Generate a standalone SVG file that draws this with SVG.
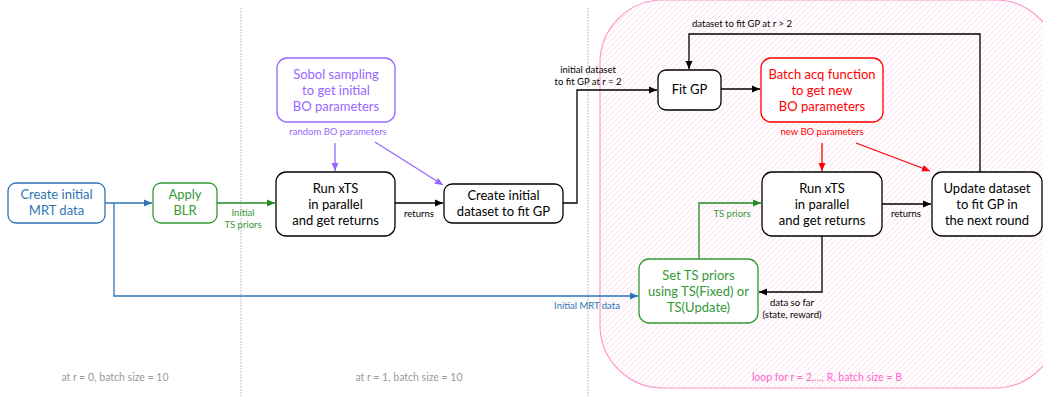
<svg xmlns="http://www.w3.org/2000/svg" width="1043" height="396" viewBox="0 0 1043 396">
<style>
.node{fill:#fff;stroke-width:1.3}
.t{font-family:Lato,"Liberation Sans",sans-serif;font-size:13px;text-anchor:middle}
.s{font-family:Lato,"Liberation Sans",sans-serif;font-size:9.5px;text-anchor:middle}
.k{stroke:#000}.kt{fill:#000}
.b{stroke:#2E75B6}.bt{fill:#2E75B6}
.g{stroke:#339933}.gt{fill:#339933}
.p{stroke:#9966FF}.pt{fill:#9966FF}
.r{stroke:#FF0000}.rt{fill:#FF0000}
.c{fill:none;stroke-width:1.3}
.gray{fill:#9a9a9a}
</style>
<defs>
<pattern id="hatch" patternUnits="userSpaceOnUse" width="4" height="4" patternTransform="rotate(45)">
<rect width="4" height="4" fill="#fff"/>
<line x1="0" y1="0" x2="0" y2="4" stroke="#fbd0e6" stroke-width="1.2"/>
</pattern>
<marker id="ak" markerUnits="userSpaceOnUse" markerWidth="9" markerHeight="8" refX="8" refY="4" orient="auto"><path d="M0,0.5 L8,4 L0,7.5z" fill="#000"/></marker>
<marker id="ab" markerUnits="userSpaceOnUse" markerWidth="9" markerHeight="8" refX="8" refY="4" orient="auto"><path d="M0,0.5 L8,4 L0,7.5z" fill="#2E75B6"/></marker>
<marker id="ag" markerUnits="userSpaceOnUse" markerWidth="9" markerHeight="8" refX="8" refY="4" orient="auto"><path d="M0,0.5 L8,4 L0,7.5z" fill="#228B22"/></marker>
<marker id="ap" markerUnits="userSpaceOnUse" markerWidth="9" markerHeight="8" refX="8" refY="4" orient="auto"><path d="M0,0.5 L8,4 L0,7.5z" fill="#9966FF"/></marker>
<marker id="ar" markerUnits="userSpaceOnUse" markerWidth="9" markerHeight="8" refX="8" refY="4" orient="auto"><path d="M0,0.5 L8,4 L0,7.5z" fill="#FF0000"/></marker>
</defs>

<g id="loop-region">
<rect x="600" y="0" width="458" height="388" rx="63" fill="url(#hatch)" stroke="#FF99CC" stroke-width="1.2"/>
<text class="s" x="827" y="381" fill="#FF66CC" style="font-size:10.5px">loop for r = 2,..., R, batch size = B</text>
</g>

<g id="separators" stroke="#999" stroke-width="0.8" stroke-dasharray="1.5,1.5">
<line x1="241" y1="8" x2="241" y2="396"/>
<line x1="588" y1="8" x2="588" y2="396"/>
</g>
<g id="phase-labels">
<text class="s gray" x="115" y="381" style="font-size:10.5px">at r = 0, batch size = 10</text>
<text class="s gray" x="409" y="381" style="font-size:10.5px">at r = 1, batch size = 10</text>
</g>

<g id="connectors">
<path class="c b" d="M105,203 H152" marker-end="url(#ab)"/>
<path class="c b" d="M114,203 V296 H638" marker-end="url(#ab)"/>
<text class="s bt" x="587" y="309">Initial MRT data</text>

<path class="c" stroke="#228B22" d="M217,203 H275" marker-end="url(#ag)"/>
<text class="s gt" x="243" y="216">Initial</text>
<text class="s gt" x="243" y="228">TS priors</text>

<path class="c p" d="M335,143 V171" marker-end="url(#ap)"/>
<path class="c p" d="M375,142 L443,185" marker-end="url(#ap)"/>

<path class="c k" d="M395,203 H443" marker-end="url(#ak)"/>
<text class="s kt" x="419" y="217">returns</text>

<path class="c k" d="M563,203 H577 V90 H657" marker-end="url(#ak)"/>
<text class="s kt" x="588" y="73">initial dataset</text>
<text class="s kt" x="588" y="85">to fit GP at r = 2</text>

<path class="c k" d="M721,89 H760" marker-end="url(#ak)"/>

<path class="c k" d="M980,172 V34 H689 V69" marker-end="url(#ak)"/>
<text class="s kt" x="742" y="27">dataset to fit GP at r &gt; 2</text>

<path class="c r" d="M822,143 V171" marker-end="url(#ar)"/>
<path class="c r" d="M856,143 L930,171" marker-end="url(#ar)"/>

<path class="c k" d="M882,204 H931" marker-end="url(#ak)"/>
<text class="s kt" x="906" y="217">returns</text>

<path class="c" stroke="#228B22" d="M699,259 V203 H761" marker-end="url(#ag)"/>
<text class="s gt" x="732" y="217">TS priors</text>

<path class="c k" d="M822,236 V292 H759" marker-end="url(#ak)"/>
<text class="s kt" x="792" y="306">data so far</text>
<text class="s kt" x="792" y="318">(state, reward)</text>
</g>

<g id="create-mrt">
<rect class="node b" x="8" y="183" width="97" height="40" rx="8"/>
<text class="t bt" x="56.5" y="199">Create initial</text>
<text class="t bt" x="56.5" y="215">MRT data</text>
</g>

<g id="apply-blr">
<rect class="node g" x="153" y="183" width="64" height="40" rx="8"/>
<text class="t gt" x="185" y="199">Apply</text>
<text class="t gt" x="185" y="215">BLR</text>
</g>

<g id="sobol">
<rect class="node p" x="277" y="58" width="118" height="64" rx="10"/>
<text class="t pt" x="336" y="79">Sobol sampling</text>
<text class="t pt" x="336" y="95">to get initial</text>
<text class="t pt" x="336" y="111">BO parameters</text>
<text class="s pt" x="338" y="135">random BO parameters</text>
</g>

<g id="run-xts-1">
<rect class="node k" x="276" y="172" width="119" height="64" rx="10"/>
<text class="t kt" x="335.5" y="193">Run xTS</text>
<text class="t kt" x="335.5" y="209">in parallel</text>
<text class="t kt" x="335.5" y="225">and get returns</text>
</g>

<g id="create-dataset">
<rect class="node k" x="444" y="184" width="119" height="39" rx="8"/>
<text class="t kt" x="503.5" y="200">Create initial</text>
<text class="t kt" x="503.5" y="216">dataset to fit GP</text>
</g>

<g id="fit-gp">
<rect class="node k" x="658" y="70" width="63" height="40" rx="8"/>
<text class="t kt" x="689.5" y="94">Fit GP</text>
</g>

<g id="batch-acq">
<rect class="node r" x="761" y="58" width="122" height="64" rx="10"/>
<text class="t rt" x="822" y="79">Batch acq function</text>
<text class="t rt" x="822" y="95">to get new</text>
<text class="t rt" x="822" y="111">BO parameters</text>
<text class="s rt" x="822" y="135">new BO parameters</text>
</g>

<g id="run-xts-2">
<rect class="node k" x="762" y="172" width="120" height="64" rx="10"/>
<text class="t kt" x="822" y="193">Run xTS</text>
<text class="t kt" x="822" y="209">in parallel</text>
<text class="t kt" x="822" y="225">and get returns</text>
</g>

<g id="update-dataset">
<rect class="node k" x="932" y="172" width="110" height="64" rx="10"/>
<text class="t kt" x="987" y="193">Update dataset</text>
<text class="t kt" x="987" y="209">to fit GP in</text>
<text class="t kt" x="987" y="225">the next round</text>
</g>

<g id="set-ts-priors">
<rect class="node g" x="639" y="259" width="119" height="64" rx="10"/>
<text class="t gt" x="698.5" y="280">Set TS priors</text>
<text class="t gt" x="698.5" y="296">using TS(Fixed) or</text>
<text class="t gt" x="698.5" y="312">TS(Update)</text>
</g>
</svg>
